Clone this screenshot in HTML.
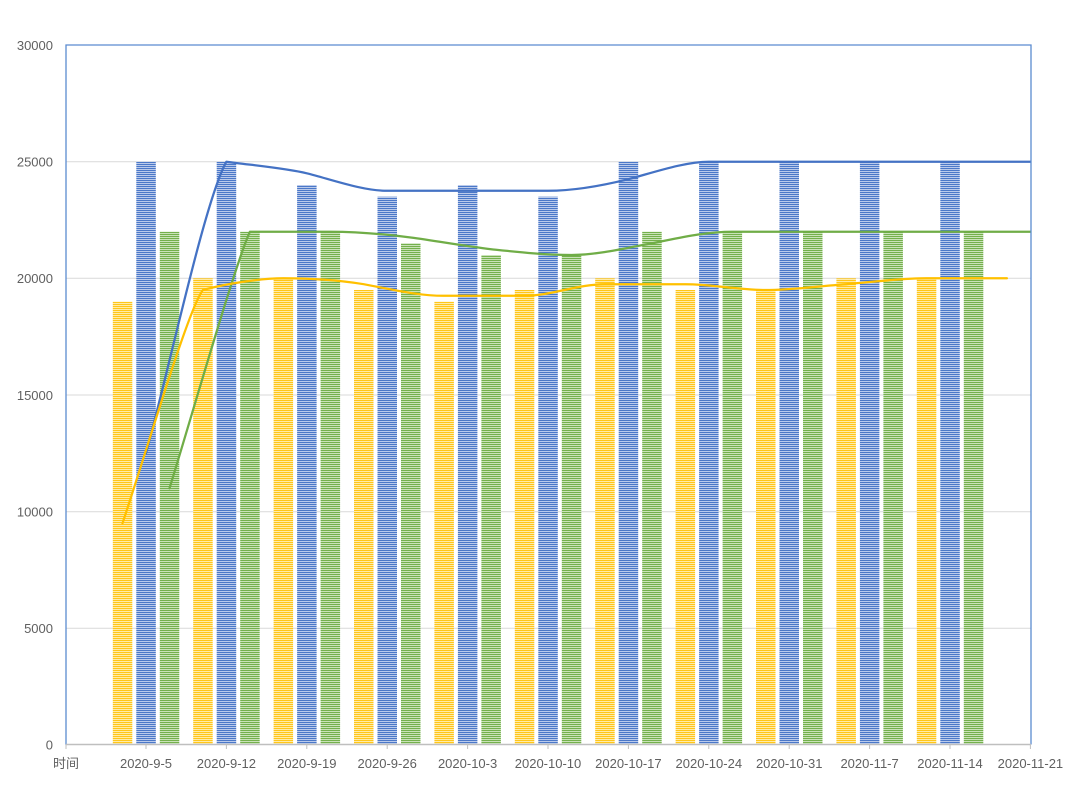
<!DOCTYPE html>
<html><head><meta charset="utf-8">
<style>
html,body{margin:0;padding:0;background:#fff;}
svg{display:block;}
text{font-family:"Liberation Sans","Noto Sans CJK SC",sans-serif;fill:#606060;font-size:13px;}
</style></head>
<body>
<svg width="1080" height="803" viewBox="0 0 1080 803" xmlns="http://www.w3.org/2000/svg">
<defs>
<pattern id="py" patternUnits="userSpaceOnUse" width="4" height="2"><rect width="4" height="2" fill="#FFEBA8"/><rect width="4" height="1" fill="#FFC61A"/></pattern>
<pattern id="pb" patternUnits="userSpaceOnUse" width="4" height="2"><rect width="4" height="2" fill="#BACAEB"/><rect width="4" height="1" fill="#4B78C8"/></pattern>
<pattern id="pg" patternUnits="userSpaceOnUse" width="4" height="2"><rect width="4" height="2" fill="#C9E2B8"/><rect width="4" height="1" fill="#74B04C"/></pattern>
<clipPath id="plot"><rect x="66" y="45" width="965" height="700"/></clipPath>
</defs>
<rect width="1080" height="803" fill="#fff"/>
<g stroke="#D9D9D9" stroke-width="1">
<line x1="66" y1="161.7" x2="1031" y2="161.7"/>
<line x1="66" y1="278.3" x2="1031" y2="278.3"/>
<line x1="66" y1="395" x2="1031" y2="395"/>
<line x1="66" y1="511.7" x2="1031" y2="511.7"/>
<line x1="66" y1="628.3" x2="1031" y2="628.3"/>
</g>
<g fill="url(#py)">
<rect x="112.8" y="301.7" width="19.5" height="442.8"/>
<rect x="193.2" y="278.3" width="19.5" height="466.2"/>
<rect x="273.6" y="278.3" width="19.5" height="466.2"/>
<rect x="354.0" y="290.0" width="19.5" height="454.5"/>
<rect x="434.4" y="301.7" width="19.5" height="442.8"/>
<rect x="514.8" y="290.0" width="19.5" height="454.5"/>
<rect x="595.2" y="278.3" width="19.5" height="466.2"/>
<rect x="675.6" y="290.0" width="19.5" height="454.5"/>
<rect x="756.0" y="290.0" width="19.5" height="454.5"/>
<rect x="836.4" y="278.3" width="19.5" height="466.2"/>
<rect x="916.8" y="278.3" width="19.5" height="466.2"/>
</g>
<g fill="url(#pb)">
<rect x="136.3" y="161.7" width="19.5" height="582.8"/>
<rect x="216.7" y="161.7" width="19.5" height="582.8"/>
<rect x="297.1" y="185.0" width="19.5" height="559.5"/>
<rect x="377.5" y="196.7" width="19.5" height="547.8"/>
<rect x="457.9" y="185.0" width="19.5" height="559.5"/>
<rect x="538.3" y="196.7" width="19.5" height="547.8"/>
<rect x="618.7" y="161.7" width="19.5" height="582.8"/>
<rect x="699.1" y="161.7" width="19.5" height="582.8"/>
<rect x="779.5" y="161.7" width="19.5" height="582.8"/>
<rect x="859.9" y="161.7" width="19.5" height="582.8"/>
<rect x="940.3" y="161.7" width="19.5" height="582.8"/>
</g>
<g fill="url(#pg)">
<rect x="159.8" y="231.7" width="19.5" height="512.8"/>
<rect x="240.2" y="231.7" width="19.5" height="512.8"/>
<rect x="320.6" y="231.7" width="19.5" height="512.8"/>
<rect x="401.0" y="243.3" width="19.5" height="501.2"/>
<rect x="481.4" y="255.0" width="19.5" height="489.5"/>
<rect x="561.8" y="255.0" width="19.5" height="489.5"/>
<rect x="642.2" y="231.7" width="19.5" height="512.8"/>
<rect x="722.6" y="231.7" width="19.5" height="512.8"/>
<rect x="803.0" y="231.7" width="19.5" height="512.8"/>
<rect x="883.4" y="231.7" width="19.5" height="512.8"/>
<rect x="963.8" y="231.7" width="19.5" height="512.8"/>
</g>
<g fill="none" stroke-width="2.25" stroke-linejoin="round" stroke-linecap="round" clip-path="url(#plot)">
<path stroke="#4472C4" d="M146,453.3 C170,365 205,200 226.4,161.7 C250,165 285,168 306.8,173.3 C330,179 362,190.8 387.2,190.8 L548,190.8 C575,190.8 605,185 628.4,179.2 C655,172 685,161.7 708.8,161.7 L1032,161.7"/>
<path stroke="#70AD47" d="M169.5,488.3 C195,405 235,265 249.9,231.7 C262,231.7 310,231.7 330.3,231.7 C357,231.7 384,234 410.7,237.5 C437,241 464,246 491.1,249.2 C518,252 545,255 571.5,255 C598,255 625,248 651.9,243.3 C679,238 705,231.7 732.3,231.7 L1032,231.7"/>
<path stroke="#FFC000" d="M122.5,523.3 C150,440 188,310 202.9,290 C225,284 260,278.3 283.3,278.3 C310,278.3 337,280 363.7,284.2 C390,289 417,295.8 444.1,295.8 L524.5,295.8 C551,295.8 578,284.2 604.9,284.2 L685.3,284.2 C712,284.2 739,290 765.7,290 C792,290 819,286 846.1,284.2 C873,282 900,278.3 926.5,278.3 L1006.9,278.3"/>
</g>
<path d="M66,744.5 L66,45 L1031,45 L1031,744.5" fill="none" stroke="#5B8BD0" stroke-width="1.3"/>
<line x1="66" y1="744.5" x2="1031" y2="744.5" stroke="#BFBFBF" stroke-width="1.5"/>
<g stroke="#BFBFBF" stroke-width="1">
<line x1="66" y1="744.5" x2="66" y2="749"/>
<line x1="146" y1="744.5" x2="146" y2="749"/>
<line x1="226.4" y1="744.5" x2="226.4" y2="749"/>
<line x1="306.8" y1="744.5" x2="306.8" y2="749"/>
<line x1="387.2" y1="744.5" x2="387.2" y2="749"/>
<line x1="467.6" y1="744.5" x2="467.6" y2="749"/>
<line x1="548" y1="744.5" x2="548" y2="749"/>
<line x1="628.4" y1="744.5" x2="628.4" y2="749"/>
<line x1="708.8" y1="744.5" x2="708.8" y2="749"/>
<line x1="789.2" y1="744.5" x2="789.2" y2="749"/>
<line x1="869.6" y1="744.5" x2="869.6" y2="749"/>
<line x1="950" y1="744.5" x2="950" y2="749"/>
<line x1="1030.4" y1="744.5" x2="1030.4" y2="749"/>
</g>
<g text-anchor="end">
<text x="53" y="50">30000</text>
<text x="53" y="166.5">25000</text>
<text x="53" y="283">20000</text>
<text x="53" y="400">15000</text>
<text x="53" y="516.5">10000</text>
<text x="53" y="633">5000</text>
<text x="53" y="749.5">0</text>
</g>
<g text-anchor="middle">
<text x="66" y="768">时间</text>
<text x="146" y="768">2020-9-5</text>
<text x="226.4" y="768">2020-9-12</text>
<text x="306.8" y="768">2020-9-19</text>
<text x="387.2" y="768">2020-9-26</text>
<text x="467.6" y="768">2020-10-3</text>
<text x="548" y="768">2020-10-10</text>
<text x="628.4" y="768">2020-10-17</text>
<text x="708.8" y="768">2020-10-24</text>
<text x="789.2" y="768">2020-10-31</text>
<text x="869.6" y="768">2020-11-7</text>
<text x="950" y="768">2020-11-14</text>
<text x="1030.4" y="768">2020-11-21</text>
</g>
</svg>
</body></html>
